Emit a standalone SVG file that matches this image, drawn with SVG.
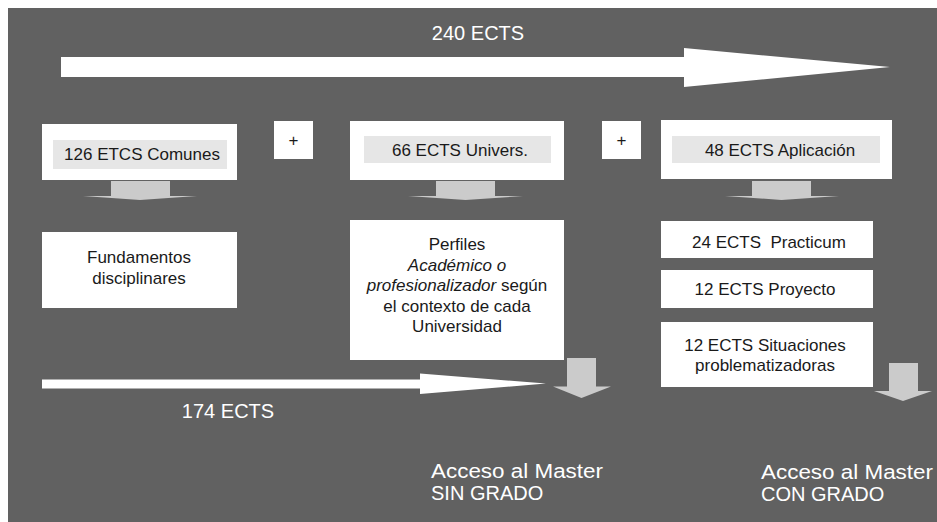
<svg xmlns="http://www.w3.org/2000/svg" width="937" height="522" viewBox="0 0 937 522">
<style>
.bx{fill:#ffffff}
.lab{fill:#e6e6e6}
.t{font-family:"Liberation Sans",Arial,sans-serif;font-size:17px;fill:#1a1a1a;text-anchor:middle;white-space:pre}
.w{font-family:"Liberation Sans",Arial,sans-serif;font-size:20px;fill:#ffffff}
.big{fill:#ffffff}
.dn{fill:#cbcbcb}
</style>
<rect x="8" y="8" width="929" height="514" fill="#616161"/>
<text class="w" x="478" y="40" text-anchor="middle">240 ECTS</text>
<g id="connectors">
<path class="big" d="M61,57 H684 V48 L890,67 L684,87 V77 H61 Z"/>
<path class="big" d="M42,379.5 H420 V373.5 L546,383.5 L420,394 V388.5 H42 Z"/>
<path class="dn" d="M111,181 H170 V196 H197 L140,200 L83,196 H111 Z"/>
<path class="dn" d="M436,181 H495 V196 H523 L465.5,200 L408,196 H436 Z"/>
<path class="dn" d="M752,181 H811 V196 H839 L781.5,200 L725,196 H752 Z"/>
<path class="dn" d="M567,358 H596 V386.5 H611 L581.5,398 L553,386.5 H567 Z"/>
<path class="dn" d="M889,363 H918 V391 H932 L903,401 L874,391 H889 Z"/>
</g>
<text class="w" x="228" y="418" text-anchor="middle">174 ECTS</text>
<g id="n-comunes">
<rect class="bx" x="42" y="124" width="195" height="56"/>
<rect class="lab" x="53" y="140" width="174" height="29"/>
<text class="t" x="142" y="160">126 ETCS Comunes</text>
</g>
<g id="plus1">
<rect class="bx" x="274" y="121" width="39" height="38"/>
<text class="t" x="293.5" y="146">+</text>
</g>
<g id="n-univers">
<rect class="bx" x="350" y="121" width="214" height="59"/>
<rect class="lab" x="364" y="136" width="187" height="27"/>
<text class="t" x="460" y="156">66 ECTS Univers.</text>
</g>
<g id="plus2">
<rect class="bx" x="602" y="121" width="39" height="38"/>
<text class="t" x="621.5" y="146">+</text>
</g>
<g id="n-aplicacion">
<rect class="bx" x="661" y="120" width="231" height="59"/>
<rect class="lab" x="672" y="136" width="208" height="27"/>
<text class="t" x="780" y="156">48 ECTS Aplicación</text>
</g>
<g id="n-fundamentos">
<rect class="bx" x="42" y="232" width="195" height="76"/>
<text class="t" x="139" y="263">Fundamentos</text>
<text class="t" x="139" y="284">disciplinares</text>
</g>
<g id="n-perfiles">
<rect class="bx" x="350" y="220" width="214" height="140"/>
<text class="t" x="457" y="250">Perfiles</text>
<text class="t" x="457" y="271" font-style="italic">Académico o</text>
<text class="t" x="457" y="291"><tspan font-style="italic">profesionalizador</tspan> según</text>
<text class="t" x="457" y="311.5">el contexto de cada</text>
<text class="t" x="457" y="332">Universidad</text>
</g>
<g id="n-practicum">
<rect class="bx" x="661" y="221" width="212" height="37"/>
<text class="t" x="769" y="247.5">24 ECTS  Practicum</text>
</g>
<g id="n-proyecto">
<rect class="bx" x="661" y="270" width="212" height="38"/>
<text class="t" x="765" y="294.5">12 ECTS Proyecto</text>
</g>
<g id="n-situaciones">
<rect class="bx" x="661" y="322" width="212" height="65"/>
<text class="t" x="765" y="351">12 ECTS Situaciones</text>
<text class="t" x="765" y="371">problematizadoras</text>
</g>
<g id="n-sin-grado">
<text class="w" x="431" y="478" textLength="172" lengthAdjust="spacingAndGlyphs">Acceso al Master</text>
<text class="w" x="431" y="500">SIN GRADO</text>
</g>
<g id="n-con-grado">
<text class="w" x="761" y="479" textLength="172" lengthAdjust="spacingAndGlyphs">Acceso al Master</text>
<text class="w" x="761" y="501">CON GRADO</text>
</g>
</svg>
